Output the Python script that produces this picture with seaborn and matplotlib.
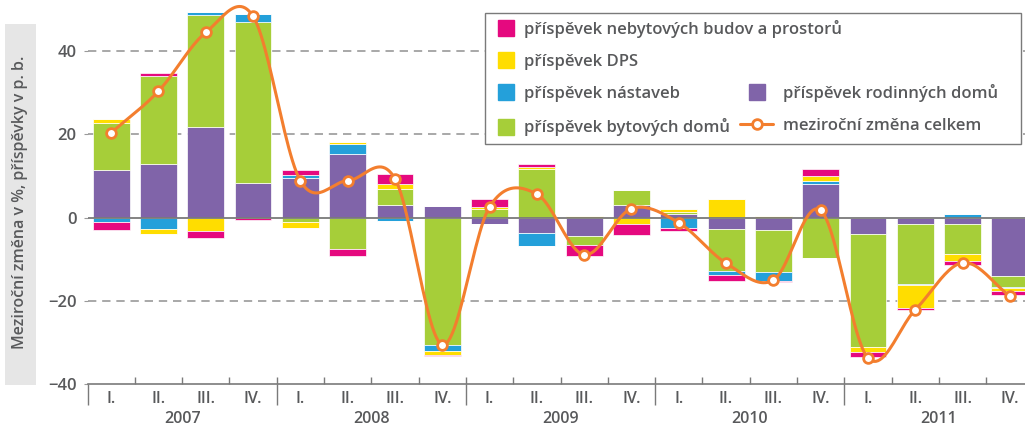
import numpy as np
import pandas as pd
import matplotlib
matplotlib.use('Agg')
import matplotlib.pyplot as plt
import seaborn as sns
from matplotlib.lines import Line2D
from matplotlib.patches import Rectangle

years = ['2007', '2008', '2009', '2010', '2011']
quarters = ['I.', 'II.', 'III.', 'IV.']

# contributions in p. b., stacked from zero in this order
rodinne = [11.4, 12.9, 21.7, 8.4, 9.6, 15.4, 3.0, 2.9, -1.6, -3.7,
           -4.5, 3.0, 1.0, -2.7, -2.9, 8.0, -3.9, -1.4, -1.4, -13.9]
bytove = [11.4, 21.1, 26.9, 38.5, -1.0, -7.5, 4.0, -30.5, 2.0, 11.6,
          -2.0, 3.6, 0.4, -10.0, -10.1, -9.7, -27.2, -14.5, -7.3, -2.7]
nastavby = [-1.0, -2.7, 0.9, 2.1, 0.6, 2.4, -0.8, -1.4, 0.0, -3.2,
            0.0, 0.0, -2.4, -1.0, -2.2, 0.8, 0.0, -0.3, 0.8, -0.2]
dps = [0.8, -1.3, -3.1, 0.0, -1.4, 0.3, 1.2, -1.0, 0.5, 0.5,
       0.4, -1.4, 0.8, 4.6, 0.4, 1.3, -1.2, -5.5, -1.7, -0.9]
nebytove = [-2.0, 0.8, -1.8, -0.6, 1.2, -1.6, 2.3, -0.4, 2.1, 0.8,
            -2.6, -2.8, -0.8, -1.6, -0.2, 1.6, -1.1, -0.4, -0.9, -0.8]
celkem = [20.4, 30.4, 44.5, 48.4, 8.9, 8.9, 9.4, -30.5, 2.6, 5.7,
          -8.9, 2.2, -1.2, -10.9, -15.0, 1.8, -33.7, -22.1, -10.8, -18.8]

PINK, YELLOW, BLUE, GREEN, PURPLE = '#E5097F', '#FFDD00', '#24A0DA', '#A6CE39', '#8064A9'
ORANGE = '#F37E2E'
GREY = '#58595B'

series = [
    ('příspěvek rodinných domů', rodinne, PURPLE),
    ('příspěvek bytových domů', bytove, GREEN),
    ('příspěvek nástaveb', nastavby, BLUE),
    ('příspěvek DPS', dps, YELLOW),
    ('příspěvek nebytových budov a prostorů', nebytove, PINK),
]

df = pd.DataFrame({name: vals for name, vals, _ in series})
df['celkem'] = celkem
x = np.arange(len(df))


def smooth(xs, ys, n=24):
    # Catmull-Rom style smoothed line (like spreadsheet "smoothed line")
    xs = np.asarray(xs, float)
    ys = np.asarray(ys, float)
    m = np.gradient(ys, xs)
    px, py = [], []
    for i in range(len(xs) - 1):
        t = np.linspace(0, 1, n, endpoint=False)
        h = xs[i + 1] - xs[i]
        h00 = 2 * t**3 - 3 * t**2 + 1
        h10 = t**3 - 2 * t**2 + t
        h01 = -2 * t**3 + 3 * t**2
        h11 = t**3 - t**2
        px.append(xs[i] + t * h)
        py.append(h00 * ys[i] + h10 * h * m[i] + h01 * ys[i + 1] + h11 * h * m[i + 1])
    px.append([xs[-1]])
    py.append([ys[-1]])
    return np.concatenate(px), np.concatenate(py)


sns.set_theme(style='white')
plt.rcParams['font.family'] = ['Open Sans', 'DejaVu Sans']
plt.rcParams['font.weight'] = 'semibold'

fig = plt.figure(figsize=(10.25, 4.28), dpi=100)
ax = fig.add_axes([87.5 / 1025, (428 - 384.3) / 428, (1025 - 87.5) / 1025, 384.3 / 428])

pos_base = np.zeros(len(df))
neg_base = np.zeros(len(df))
for name, _, color in series:
    v = df[name].values
    pos = np.where(v > 0, v, 0)
    neg = np.where(v < 0, v, 0)
    ax.bar(x, pos, bottom=pos_base, width=0.78, color=color,
           edgecolor='white', linewidth=0.5, zorder=2)
    ax.bar(x, neg, bottom=neg_base, width=0.78, color=color,
           edgecolor='white', linewidth=0.5, zorder=2)
    pos_base += pos
    neg_base += neg

for yv in [40, 20, -20]:
    ax.axhline(yv, color='#9a9a9a', lw=1.2, ls=(0, (5, 3.5)), zorder=1)
ax.axhline(0, color='#7a7a7a', lw=1.3, zorder=3)

sx, sy = smooth(x, df['celkem'])
sns.lineplot(x=sx, y=sy, sort=False, color=ORANGE, lw=2.2, ax=ax, zorder=4)
ax.plot(x, df['celkem'], ls='none', marker='o', ms=7, mfc='white', mec=ORANGE,
        mew=2, zorder=5)

ax.set_xlim(-0.5, 19.32)
ax.set_ylim(-40, 52.3)

for s in ['top', 'right', 'left']:
    ax.spines[s].set_visible(False)
ax.spines['bottom'].set_color('#7a7a7a')
ax.spines['bottom'].set_linewidth(1.2)

ax.set_yticks([-40, -20, 0, 20, 40])
ax.set_yticklabels(['\u221240', '\u221220', '0', '20', '40'])
ax.tick_params(axis='y', left=True, length=3, width=0.8, color='#9a9a9a',
               labelsize=12, labelcolor=GREY, pad=5)

ax.set_xticks(x)
ax.set_xticklabels(quarters * len(years))
ax.set_xticks(np.arange(0.5, 19, 1), minor=True)
ax.xaxis.remove_overlapping_locs = False
ax.tick_params(axis='x', which='major', length=0, labelsize=11.5, labelcolor=GREY, pad=5)
ax.tick_params(axis='x', which='minor', bottom=True, direction='in', length=5,
               width=1, color='#7a7a7a')

sec = ax.secondary_xaxis('bottom')
sec.set_xticks(np.arange(-0.5, 19, 4))
sec.set_xticklabels([])
sec.set_xticks(np.arange(1.5, 20, 4), minor=True)
sec.set_xticklabels(years, minor=True)
sec.tick_params(axis='x', which='major', direction='out', length=15, width=1, color='#7a7a7a')
sec.tick_params(axis='x', which='minor', length=0, labelsize=11.5, labelcolor=GREY, pad=19.5)
sec.spines['bottom'].set_visible(False)

# y label on grey strip
fig.add_artist(Rectangle((5 / 1025, 1 - 385 / 428), 31 / 1025, 361 / 428,
                         transform=fig.transFigure, facecolor='#e6e6e6',
                         edgecolor='none', zorder=0))
fig.text(20.5 / 1025, 1 - 202 / 428, 'Meziroční změna v %, příspěvky v p. b.',
         rotation=90, ha='center', va='center', fontsize=11.5, color=GREY)

# legend frame and entries
fig.add_artist(Rectangle((485 / 1025, 1 - 144 / 428), 536 / 1025, 131 / 428,
                         transform=fig.transFigure, facecolor='white',
                         edgecolor='#7a7a7a', lw=1, zorder=1))


def sq(c):
    return Line2D([], [], ls='none', marker='s', ms=11.5, color=c)


h1 = [sq(PINK), sq(YELLOW), sq(BLUE), sq(GREEN)]
l1 = ['příspěvek nebytových budov a prostorů', 'příspěvek DPS',
      'příspěvek nástaveb', 'příspěvek bytových domů']
leg1 = fig.legend(h1, l1, loc='center left', bbox_to_anchor=(497 / 1025, 1 - 78 / 428),
                  frameon=False, borderpad=0, borderaxespad=0, handlelength=1.1,
                  handletextpad=0.5, labelspacing=0.98, labelcolor=GREY,
                  prop={'size': 12, 'weight': 'semibold'})
leg1.set_zorder(6)

h2 = [sq(PURPLE), Line2D([], [], color=ORANGE, lw=2.2, marker='o', ms=7,
                         mfc='white', mec=ORANGE, mew=2)]
l2 = ['příspěvek rodinných domů', 'meziroční změna celkem']
leg2 = fig.legend(h2, l2, loc='center left', bbox_to_anchor=(740 / 1025, 1 - 108.8 / 428),
                  frameon=False, borderpad=0, borderaxespad=0, handlelength=2.0,
                  handletextpad=0.6, labelspacing=0.98, labelcolor=GREY,
                  prop={'size': 12, 'weight': 'semibold'})
leg2.set_zorder(6)

fig.savefig('out.png', dpi=100)
